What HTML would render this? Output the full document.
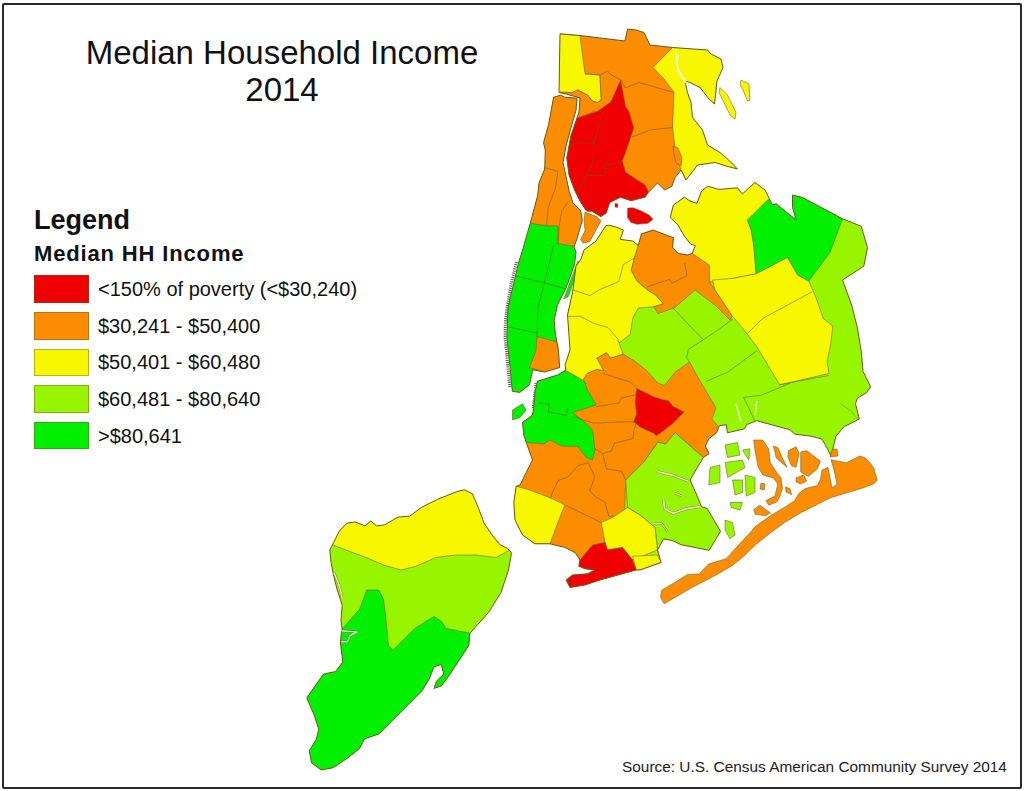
<!DOCTYPE html>
<html><head><meta charset="utf-8"><style>
html,body{margin:0;padding:0;background:#fff;}
body{width:1024px;height:791px;position:relative;overflow:hidden;font-family:"Liberation Sans",sans-serif;}
.frame{position:absolute;left:2px;top:3px;width:1016px;height:782px;border:2px solid #2a2a2a;box-sizing:content-box;border-radius:2px;}
.t{position:absolute;white-space:nowrap;color:#111;}
.sw{position:absolute;left:34px;width:55px;height:27.5px;box-sizing:border-box;border:1px solid rgba(106,90,32,0.45);}
svg{position:absolute;left:0;top:0;}
</style></head><body>
<div class="frame"></div>
<svg width="1024" height="791" viewBox="0 0 1024 791">
<clipPath id="cbx"><path d="M560.0,33.8 L580.0,35.5 L625.0,41.0 L627.5,29.0 L636.0,30.0 L644.0,32.5 L650.0,45.0 L672.5,47.5 L707.5,50.0 L711.0,54.0 L721.0,59.0 L723.0,67.5 L717.0,81.0 L714.5,104.0 L709.0,99.0 L700.0,87.5 L690.0,82.5 L685.0,81.0 L687.5,92.5 L691.0,102.5 L692.5,117.5 L702.5,130.0 L707.5,145.0 L720.0,152.5 L726.0,157.5 L737.5,169.0 L726.0,166.0 L715.0,162.5 L697.5,165.0 L686.0,180.0 L681.0,170.0 L675.0,177.7 L671.7,186.5 L664.6,190.0 L657.5,183.0 L648.7,191.9 L645.0,197.2 L631.0,200.7 L620.4,197.2 L609.7,202.5 L606.2,213.0 L601.0,216.6 L592.0,211.3 L586.5,211.0 L580.5,202.0 L574.5,190.0 L569.0,175.0 L566.8,158.0 L570.8,136.0 L579.0,112.0 L580.0,98.0 L566.0,94.0 L559.0,92.5 Z"/></clipPath>
<g clip-path="url(#cbx)"><rect x="540" y="20" width="220" height="220" fill="#fc8c00"/><path d="M560.0,33.8 L580.0,35.5 L585.0,73.8 L600.0,75.0 L601.2,100.0 L597.5,102.5 L592.5,101.2 L587.5,95.0 L577.5,90.0 L572.5,92.5 L550.0,92.5 L550.0,30.0 Z" fill="#f7f700" stroke="#6a5a20" stroke-opacity="0.6" stroke-width="0.9" stroke-linejoin="round" /><path d="M607.5,71.0 L610.0,74.0 L621.0,80.0 L614.0,97.5 L605.0,110.0 L600.0,114.0 L594.0,111.0 L586.0,116.0 L581.0,120.0 L576.0,116.0 L560.0,110.0 L560.0,92.0 L572.5,92.5 L577.5,90.0 L587.5,95.0 L592.5,101.2 L597.5,102.5 L601.2,100.0 L600.0,75.0 Z" fill="#fc8c00" stroke="#6a5a20" stroke-opacity="0.6" stroke-width="0.9" stroke-linejoin="round" /><path d="M620.6,80.5 L625.5,106.4 L628.8,111.4 L633.7,127.8 L625.5,152.5 L622.2,160.7 L625.5,172.2 L635.3,178.8 L645.2,185.3 L648.5,191.9 L660.0,200.0 L640.0,230.0 L560.0,230.0 L560.0,120.0 L573.8,119.6 L583.5,115.7 L597.0,111.8 L611.0,102.0 Z" fill="#f00000" stroke="#6a5a20" stroke-opacity="0.6" stroke-width="0.9" stroke-linejoin="round" /><path d="M653.0,67.5 L672.5,47.5 L740.0,45.0 L760.0,180.0 L686.0,180.0 L681.0,170.0 L675.0,147.5 L672.5,127.5 L674.0,92.5 L664.0,79.0 Z" fill="#f7f700" stroke="#6a5a20" stroke-opacity="0.6" stroke-width="0.9" stroke-linejoin="round" /><path d="M673.0,146.0 L678.0,148.0 L682.0,158.0 L681.0,166.0 L676.0,163.0 L674.0,155.0 Z" fill="#fc8c00" stroke="#6a5a20" stroke-opacity="0.6" stroke-width="0.9" stroke-linejoin="round" /><path d="M621.0,80.0 L625.0,88.0 L639.0,82.5 L674.0,92.5" fill="none" stroke="#6a5a20" stroke-opacity="0.6" stroke-width="0.9" stroke-linejoin="round"/><path d="M632.0,137.0 L650.0,130.0 L672.5,127.5" fill="none" stroke="#6a5a20" stroke-opacity="0.6" stroke-width="0.9" stroke-linejoin="round"/><path d="M585.0,73.8 L600.0,75.0" fill="none" stroke="#6a5a20" stroke-opacity="0.6" stroke-width="0.9" stroke-linejoin="round"/><path d="M602.5,113.0 L594.2,142.6 L592.6,164.0 L587.7,173.8 L579.5,188.6 L574.5,198.5" fill="none" stroke="#6a5a20" stroke-opacity="0.6" stroke-width="0.9" stroke-linejoin="round"/><path d="M566.3,144.2 L594.2,142.6" fill="none" stroke="#6a5a20" stroke-opacity="0.6" stroke-width="0.9" stroke-linejoin="round"/><path d="M587.7,175.5 L605.8,175.5 L604.0,165.6 L622.2,162.3" fill="none" stroke="#6a5a20" stroke-opacity="0.6" stroke-width="0.9" stroke-linejoin="round"/></g>
<path d="M560.0,33.8 L580.0,35.5 L625.0,41.0 L627.5,29.0 L636.0,30.0 L644.0,32.5 L650.0,45.0 L672.5,47.5 L707.5,50.0 L711.0,54.0 L721.0,59.0 L723.0,67.5 L717.0,81.0 L714.5,104.0 L709.0,99.0 L700.0,87.5 L690.0,82.5 L685.0,81.0 L687.5,92.5 L691.0,102.5 L692.5,117.5 L702.5,130.0 L707.5,145.0 L720.0,152.5 L726.0,157.5 L737.5,169.0 L726.0,166.0 L715.0,162.5 L697.5,165.0 L686.0,180.0 L681.0,170.0 L675.0,177.7 L671.7,186.5 L664.6,190.0 L657.5,183.0 L648.7,191.9 L645.0,197.2 L631.0,200.7 L620.4,197.2 L609.7,202.5 L606.2,213.0 L601.0,216.6 L592.0,211.3 L586.5,211.0 L580.5,202.0 L574.5,190.0 L569.0,175.0 L566.8,158.0 L570.8,136.0 L579.0,112.0 L580.0,98.0 L566.0,94.0 L559.0,92.5 Z" fill="none" stroke="#6a5a20" stroke-width="1"/>
<path d="M676.0,53.0 L678.0,70.0 L684.0,80.0 L689.0,86.0" fill="none" stroke="#ffffff" stroke-opacity="1" stroke-width="1.6" stroke-linejoin="round"/>
<path d="M720.0,87.5 L727.5,95.0 L736.0,112.5 L735.0,119.0 L730.0,115.0 L724.0,102.5 L719.0,92.5 Z" fill="#f7f700" stroke="#6a5a20" stroke-opacity="0.6" stroke-width="0.9" stroke-linejoin="round" />
<path d="M741.0,80.0 L749.0,84.0 L750.0,100.0 L747.5,101.0 L744.0,92.5 L740.0,84.0 Z" fill="#f7f700" stroke="#6a5a20" stroke-opacity="0.6" stroke-width="0.9" stroke-linejoin="round" />
<path d="M627.7,208.1 L632.8,207.8 L640.9,210.8 L649.0,215.0 L653.0,219.3 L648.0,223.3 L636.8,224.3 L630.8,222.3 L627.5,217.2 Z" fill="#f00000" stroke="#6a5a20" stroke-opacity="0.6" stroke-width="0.9" stroke-linejoin="round" />
<path d="M615.0,203.5 L618.0,204.0 L617.5,207.5 L615.0,207.0 Z" fill="#f00000" stroke="#6a5a20" stroke-opacity="0.6" stroke-width="0.9" stroke-linejoin="round" />
<clipPath id="cmn"><path d="M553.6,97.2 L560.7,95.2 L564.8,97.2 L577.0,98.2 L576.0,110.4 L571.9,124.5 L565.8,146.8 L563.0,162.6 L569.3,191.7 L573.1,203.0 L580.7,210.7 L582.3,220.0 L580.7,225.8 L577.0,238.5 L574.0,247.0 L576.0,252.0 L574.6,264.4 L566.0,288.0 L557.4,305.3 L554.2,320.3 L555.3,333.2 L558.5,350.4 L559.6,367.6 L544.5,372.0 L532.7,369.8 L529.5,384.8 L519.8,392.4 L512.3,391.3 L510.1,367.6 L506.9,337.5 L508.0,307.4 L518.7,262.3 L522.6,250.0 L530.2,223.3 L537.7,195.5 L539.0,182.9 L544.7,169.0 L545.3,150.0 L543.5,142.8 L548.6,124.5 Z"/></clipPath>
<g clip-path="url(#cmn)"><rect x="490" y="90" width="110" height="310" fill="#00f000"/><path d="M500.0,90.0 L600.0,90.0 L600.0,247.0 L571.9,246.0 L558.0,243.5 L558.0,226.0 L546.6,225.8 L530.2,223.3 L500.0,223.0 Z" fill="#fc8c00" stroke="#6a5a20" stroke-opacity="0.6" stroke-width="0.9" stroke-linejoin="round" /><path d="M537.0,336.5 L556.3,341.8 L575.0,342.0 L575.0,380.0 L544.5,372.0 L529.5,367.6 L536.0,350.4 Z" fill="#fc8c00" stroke="#6a5a20" stroke-opacity="0.6" stroke-width="0.9" stroke-linejoin="round" /><path d="M545.3,167.7 L558.0,171.5 L555.4,187.9 L547.9,208.1 L546.6,225.8" fill="none" stroke="#6a5a20" stroke-opacity="0.6" stroke-width="0.9" stroke-linejoin="round"/><path d="M569.3,200.6 L561.8,210.7 L559.2,225.8 L558.0,243.5" fill="none" stroke="#6a5a20" stroke-opacity="0.6" stroke-width="0.9" stroke-linejoin="round"/><path d="M500.0,276.0 L516.6,276.2 L544.5,282.7 L570.0,290.0" fill="none" stroke="#6a5a20" stroke-opacity="0.6" stroke-width="0.9" stroke-linejoin="round"/><path d="M554.2,243.0 L544.5,282.7 L538.0,307.4 L537.0,336.5" fill="none" stroke="#6a5a20" stroke-opacity="0.6" stroke-width="0.9" stroke-linejoin="round"/><path d="M500.0,326.0 L508.0,326.8 L537.0,333.0" fill="none" stroke="#6a5a20" stroke-opacity="0.6" stroke-width="0.9" stroke-linejoin="round"/></g>
<path d="M553.6,97.2 L560.7,95.2 L564.8,97.2 L577.0,98.2 L576.0,110.4 L571.9,124.5 L565.8,146.8 L563.0,162.6 L569.3,191.7 L573.1,203.0 L580.7,210.7 L582.3,220.0 L580.7,225.8 L577.0,238.5 L574.0,247.0 L576.0,252.0 L574.6,264.4 L566.0,288.0 L557.4,305.3 L554.2,320.3 L555.3,333.2 L558.5,350.4 L559.6,367.6 L544.5,372.0 L532.7,369.8 L529.5,384.8 L519.8,392.4 L512.3,391.3 L510.1,367.6 L506.9,337.5 L508.0,307.4 L518.7,262.3 L522.6,250.0 L530.2,223.3 L537.7,195.5 L539.0,182.9 L544.7,169.0 L545.3,150.0 L543.5,142.8 L548.6,124.5 Z" fill="none" stroke="#6a5a20" stroke-width="1"/>
<path d="M516.5,262 L511,285 L507.5,305 L505.5,320 L505,337 L506.5,352 L508,368 L510,388" fill="none" stroke="#5a5a5a" stroke-width="3" stroke-dasharray="1.1 1.1"/>
<path d="M536,383 L534.5,395 L533,408" fill="none" stroke="#5a5a5a" stroke-width="2.6" stroke-dasharray="1.1 1.1"/>
<path d="M585.0,212.0 L596.5,216.6 L601.0,221.0 L595.6,230.8 L590.0,241.4 L583.2,243.2 L580.5,239.6 L585.0,230.8 L584.0,221.0 Z" fill="#fc8c00" stroke="#6a5a20" stroke-opacity="0.6" stroke-width="0.9" stroke-linejoin="round" />
<path d="M577.8,261.2 L581.0,262.3 L568.2,296.7 L563.9,298.8 Z" fill="#00f000" stroke="#6a5a20" stroke-opacity="0.6" stroke-width="0.9" stroke-linejoin="round" />
<path d="M512.5,410.0 L522.5,403.8 L526.2,410.0 L520.0,417.5 L512.5,420.0 Z" fill="#00f000" stroke="#6a5a20" stroke-opacity="0.6" stroke-width="0.9" stroke-linejoin="round" />
<clipPath id="cli"><path d="M606.0,225.5 L609.4,225.3 L615.6,226.9 L623.4,230.0 L620.3,239.4 L632.8,241.0 L638.3,245.6 L641.4,233.9 L653.1,230.0 L673.4,237.8 L672.7,247.2 L678.1,253.4 L687.5,255.0 L692.2,253.4 L695.3,245.6 L690.6,244.0 L684.4,236.2 L678.0,225.0 L670.3,217.5 L673.4,205.0 L684.4,197.2 L690.0,201.0 L696.9,203.4 L701.6,191.0 L707.8,186.2 L718.8,189.4 L737.5,187.8 L742.2,194.0 L755.0,182.5 L765.0,190.0 L772.5,205.0 L776.2,203.8 L790.0,215.0 L796.2,220.0 L792.5,207.5 L792.5,195.0 L802.5,197.5 L842.5,218.8 L861.2,226.2 L867.5,247.5 L863.8,266.2 L842.5,280.0 L851.7,305.2 L857.4,328.0 L861.2,350.7 L863.1,371.6 L870.7,386.7 L866.9,392.4 L857.4,398.1 L855.5,403.8 L859.3,419.0 L844.2,426.6 L836.0,436.0 L833.0,448.0 L831.0,456.0 L827.0,448.0 L822.0,439.0 L810.0,436.0 L794.8,434.2 L790.0,429.8 L756.7,420.7 L746.6,424.7 L744.6,428.8 L727.4,432.8 L726.4,424.7 L719.3,425.7 L716.7,432.7 L709.1,438.4 L705.3,446.0 L709.1,453.6 L703.4,457.4 L697.7,466.9 L690.1,480.1 L697.7,497.2 L701.5,506.7 L707.2,508.6 L720.5,531.3 L709.1,550.3 L699.6,548.4 L680.7,544.6 L673.1,540.8 L663.6,538.9 L657.5,550.0 L661.2,562.5 L640.0,570.0 L636.2,570.0 L600.0,580.0 L585.0,585.0 L570.0,587.5 L566.2,580.0 L572.5,575.0 L587.5,573.8 L595.0,570.0 L585.0,568.8 L578.8,566.2 L580.0,560.0 L575.0,552.5 L565.0,547.5 L550.0,543.8 L535.0,543.8 L522.5,535.0 L515.0,520.0 L513.8,502.5 L516.2,486.2 L520.0,485.0 L525.0,475.0 L532.5,460.0 L526.2,442.5 L523.8,435.0 L522.5,422.5 L532.5,415.0 L533.8,406.2 L535.0,392.5 L537.5,381.2 L557.5,375.0 L566.0,370.0 L565.0,365.0 L570.0,350.0 L568.8,332.5 L567.5,315.0 L572.5,292.5 L576.0,266.0 L581.0,259.0 L584.0,250.0 L596.0,241.0 Z"/></clipPath>
<g clip-path="url(#cli)"><rect x="500" y="170" width="380" height="430" fill="#98f500"/><path d="M480.0,360.0 L587.0,373.4 L596.7,369.3 L603.7,370.7 L596.7,358.1 L606.5,352.6 L610.6,358.1 L623.1,354.0 L633.9,360.6 L646.4,370.3 L657.6,382.9 L664.5,385.6 L675.6,371.7 L689.5,362.0 L697.9,377.3 L706.2,391.2 L716.0,407.9 L711.8,419.0 L721.5,430.1 L740.0,460.0 L703.4,457.4 L675.0,432.7 L665.5,444.1 L657.9,442.2 L644.6,461.2 L625.7,480.1 L625.0,500.0 L620.0,600.0 L480.0,600.0 Z" fill="#fc8c00" stroke="#6a5a20" stroke-opacity="0.6" stroke-width="0.9" stroke-linejoin="round" /><path d="M520.0,365.0 L566.1,370.7 L575.9,376.2 L583.8,380.0 L587.5,390.0 L596.2,405.0 L572.5,412.5 L585.0,422.5 L592.5,430.0 L595.0,450.0 L592.5,460.0 L586.2,457.5 L577.5,446.2 L562.5,446.2 L550.0,440.0 L543.8,443.8 L526.2,442.5 L500.0,440.0 L500.0,365.0 Z" fill="#00f000" stroke="#6a5a20" stroke-opacity="0.6" stroke-width="0.9" stroke-linejoin="round" /><path d="M560.0,200.0 L636.0,200.0 L638.3,245.6 L634.4,258.0 L631.3,270.6 L637.5,281.6 L646.9,289.4 L656.3,295.6 L663.5,303.9 L653.8,306.7 L638.4,308.1 L632.9,317.8 L630.1,334.5 L619.0,342.9 L623.1,354.0 L610.6,358.1 L606.5,352.6 L596.7,358.1 L603.7,370.7 L596.7,369.3 L587.0,373.4 L582.8,380.4 L575.9,376.2 L566.1,370.7 L550.0,370.0 L550.0,200.0 Z" fill="#f7f700" stroke="#6a5a20" stroke-opacity="0.6" stroke-width="0.9" stroke-linejoin="round" /><path d="M636.0,228.0 L641.4,233.9 L653.1,230.0 L673.4,237.8 L672.7,247.2 L678.1,253.4 L687.5,255.0 L692.2,253.4 L709.4,265.2 L709.4,281.6 L715.0,290.0 L732.5,316.2 L730.0,320.0 L715.0,305.0 L695.0,290.0 L675.0,307.5 L657.9,313.6 L653.8,306.7 L663.5,303.9 L656.3,295.6 L646.9,289.4 L637.5,281.6 L631.3,270.6 L634.4,258.0 L638.3,245.6 Z" fill="#fc8c00" stroke="#6a5a20" stroke-opacity="0.6" stroke-width="0.9" stroke-linejoin="round" /><path d="M660.0,170.0 L780.0,170.0 L776.2,203.8 L767.5,205.0 L747.5,220.0 L751.2,230.0 L753.8,245.0 L756.2,273.8 L732.8,278.4 L720.3,283.0 L709.4,281.6 L709.4,265.2 L692.2,253.4 L680.0,240.0 L660.0,220.0 Z" fill="#f7f700" stroke="#6a5a20" stroke-opacity="0.6" stroke-width="0.9" stroke-linejoin="round" /><path d="M747.5,220.0 L767.5,200.0 L790.0,190.0 L850.0,200.0 L842.5,218.8 L830.0,252.5 L815.0,272.5 L808.8,281.2 L797.5,275.0 L787.5,257.5 L756.2,273.8 L753.8,245.0 L751.2,230.0 Z" fill="#00f000" stroke="#6a5a20" stroke-opacity="0.6" stroke-width="0.9" stroke-linejoin="round" /><path d="M712.5,280.0 L732.8,278.4 L756.2,273.8 L787.5,257.5 L797.5,275.0 L808.8,281.2 L815.0,295.0 L823.3,318.5 L832.8,326.0 L830.9,343.1 L827.1,362.1 L829.0,373.5 L779.7,384.8 L756.9,346.9 L745.5,331.7 L732.5,316.2 L715.0,290.0 Z" fill="#f7f700" stroke="#6a5a20" stroke-opacity="0.6" stroke-width="0.9" stroke-linejoin="round" /><path d="M636.7,388.4 L653.4,396.8 L661.7,399.5 L668.7,400.9 L672.9,406.5 L684.0,412.1 L679.8,416.2 L672.9,423.2 L660.3,432.9 L656.2,435.7 L653.4,432.9 L640.9,427.4 L633.9,421.8 L636.7,413.5 L635.3,402.3 Z" fill="#f00000" stroke="#6a5a20" stroke-opacity="0.6" stroke-width="0.9" stroke-linejoin="round" /><path d="M625.7,480.1 L644.6,461.2 L657.9,442.2 L665.5,444.1 L675.0,432.7 L703.4,457.4 L740.0,480.0 L740.0,560.0 L657.5,550.0 L655.0,527.5 L640.0,515.0 L627.5,507.5 Z" fill="#98f500" stroke="#6a5a20" stroke-opacity="0.6" stroke-width="0.9" stroke-linejoin="round" /><path d="M516.2,486.2 L530.0,490.0 L552.5,498.8 L565.0,505.0 L558.8,520.0 L550.0,543.8 L535.0,543.8 L500.0,540.0 L500.0,486.0 Z" fill="#f7f700" stroke="#6a5a20" stroke-opacity="0.6" stroke-width="0.9" stroke-linejoin="round" /><path d="M601.2,522.5 L612.5,517.5 L627.5,507.5 L640.0,515.0 L655.0,527.5 L657.5,550.0 L645.0,555.0 L632.5,560.0 L622.5,547.5 L607.5,550.0 L605.0,542.5 Z" fill="#f7f700" stroke="#6a5a20" stroke-opacity="0.6" stroke-width="0.9" stroke-linejoin="round" /><path d="M632.5,556.2 L657.5,555.0 L661.2,562.5 L640.0,570.0 L636.2,570.0 Z" fill="#f7f700" stroke="#6a5a20" stroke-opacity="0.6" stroke-width="0.9" stroke-linejoin="round" /><path d="M580.0,560.0 L592.5,545.0 L605.0,542.5 L607.5,550.0 L622.5,547.5 L632.5,560.0 L636.2,570.0 L600.0,580.0 L585.0,590.0 L560.0,590.0 L560.0,560.0 Z" fill="#f00000" stroke="#6a5a20" stroke-opacity="0.6" stroke-width="0.9" stroke-linejoin="round" /><path d="M537.9,402.9 L549.3,404.1 L548.0,411.7 L565.8,415.5 L568.3,407.9" fill="none" stroke="#6a5a20" stroke-opacity="0.6" stroke-width="0.9" stroke-linejoin="round"/><path d="M596.2,406.7 L619.1,402.9 L621.6,397.8 L634.3,395.2 L640.0,392.0" fill="none" stroke="#6a5a20" stroke-opacity="0.6" stroke-width="0.9" stroke-linejoin="round"/><path d="M573.4,416.8 L593.7,423.2 L621.6,421.9 L636.9,421.9" fill="none" stroke="#6a5a20" stroke-opacity="0.6" stroke-width="0.9" stroke-linejoin="round"/><path d="M595.0,448.6 L602.6,453.6 L611.5,451.1 L614.0,443.5 L633.1,438.4 L634.3,428.2 L636.9,421.9" fill="none" stroke="#6a5a20" stroke-opacity="0.6" stroke-width="0.9" stroke-linejoin="round"/><path d="M602.6,453.6 L606.4,468.9 L621.6,471.4 L625.7,480.1" fill="none" stroke="#6a5a20" stroke-opacity="0.6" stroke-width="0.9" stroke-linejoin="round"/><path d="M588.5,462.9 L578.3,465.4 L568.2,476.8 L558.0,480.6 L551.7,494.6 L550.4,498.4" fill="none" stroke="#6a5a20" stroke-opacity="0.6" stroke-width="0.9" stroke-linejoin="round"/><path d="M588.5,462.9 L594.8,476.8 L589.7,490.8 L596.1,497.1 L605.0,502.2 L608.8,516.2 L613.9,516.2" fill="none" stroke="#6a5a20" stroke-opacity="0.6" stroke-width="0.9" stroke-linejoin="round"/><path d="M565.0,505.0 L601.2,522.5" fill="none" stroke="#6a5a20" stroke-opacity="0.6" stroke-width="0.9" stroke-linejoin="round"/><path d="M602.3,373.1 L614.1,377.0 L629.7,381.7 L635.9,387.2" fill="none" stroke="#6a5a20" stroke-opacity="0.6" stroke-width="0.9" stroke-linejoin="round"/><path d="M567.5,316.4 L580.0,316.4 L594.0,323.4 L607.9,327.6 L617.6,338.7 L619.0,342.9" fill="none" stroke="#6a5a20" stroke-opacity="0.6" stroke-width="0.9" stroke-linejoin="round"/><path d="M573.0,290.0 L590.0,295.6 L600.0,289.4 L618.8,281.6 L623.4,264.4 L634.4,258.0" fill="none" stroke="#6a5a20" stroke-opacity="0.6" stroke-width="0.9" stroke-linejoin="round"/><path d="M673.0,308.0 L693.7,330.0 L703.4,339.7 L688.2,349.5 L686.8,357.8 L689.5,362.0" fill="none" stroke="#6a5a20" stroke-opacity="0.6" stroke-width="0.9" stroke-linejoin="round"/><path d="M703.4,339.7 L718.0,330.0 L732.8,318.9" fill="none" stroke="#6a5a20" stroke-opacity="0.6" stroke-width="0.9" stroke-linejoin="round"/><path d="M706.2,381.5 L728.5,371.7 L756.9,350.7" fill="none" stroke="#6a5a20" stroke-opacity="0.6" stroke-width="0.9" stroke-linejoin="round"/><path d="M779.7,384.8 L829.0,375.4" fill="none" stroke="#6a5a20" stroke-opacity="0.6" stroke-width="0.9" stroke-linejoin="round"/><path d="M790.0,383.3 L778.0,388.3 L760.8,395.4 L743.6,397.4 L748.6,407.5 L754.7,420.7" fill="none" stroke="#6a5a20" stroke-opacity="0.6" stroke-width="0.9" stroke-linejoin="round"/><path d="M747.4,333.6 L762.6,318.5 L811.9,291.9" fill="none" stroke="#6a5a20" stroke-opacity="0.6" stroke-width="0.9" stroke-linejoin="round"/><path d="M646.6,287.0 L669.4,279.4 L671.9,283.2 L687.1,275.6 L684.6,263.0" fill="none" stroke="#6a5a20" stroke-opacity="0.6" stroke-width="0.9" stroke-linejoin="round"/></g>
<path d="M606.0,225.5 L609.4,225.3 L615.6,226.9 L623.4,230.0 L620.3,239.4 L632.8,241.0 L638.3,245.6 L641.4,233.9 L653.1,230.0 L673.4,237.8 L672.7,247.2 L678.1,253.4 L687.5,255.0 L692.2,253.4 L695.3,245.6 L690.6,244.0 L684.4,236.2 L678.0,225.0 L670.3,217.5 L673.4,205.0 L684.4,197.2 L690.0,201.0 L696.9,203.4 L701.6,191.0 L707.8,186.2 L718.8,189.4 L737.5,187.8 L742.2,194.0 L755.0,182.5 L765.0,190.0 L772.5,205.0 L776.2,203.8 L790.0,215.0 L796.2,220.0 L792.5,207.5 L792.5,195.0 L802.5,197.5 L842.5,218.8 L861.2,226.2 L867.5,247.5 L863.8,266.2 L842.5,280.0 L851.7,305.2 L857.4,328.0 L861.2,350.7 L863.1,371.6 L870.7,386.7 L866.9,392.4 L857.4,398.1 L855.5,403.8 L859.3,419.0 L844.2,426.6 L836.0,436.0 L833.0,448.0 L831.0,456.0 L827.0,448.0 L822.0,439.0 L810.0,436.0 L794.8,434.2 L790.0,429.8 L756.7,420.7 L746.6,424.7 L744.6,428.8 L727.4,432.8 L726.4,424.7 L719.3,425.7 L716.7,432.7 L709.1,438.4 L705.3,446.0 L709.1,453.6 L703.4,457.4 L697.7,466.9 L690.1,480.1 L697.7,497.2 L701.5,506.7 L707.2,508.6 L720.5,531.3 L709.1,550.3 L699.6,548.4 L680.7,544.6 L673.1,540.8 L663.6,538.9 L657.5,550.0 L661.2,562.5 L640.0,570.0 L636.2,570.0 L600.0,580.0 L585.0,585.0 L570.0,587.5 L566.2,580.0 L572.5,575.0 L587.5,573.8 L595.0,570.0 L585.0,568.8 L578.8,566.2 L580.0,560.0 L575.0,552.5 L565.0,547.5 L550.0,543.8 L535.0,543.8 L522.5,535.0 L515.0,520.0 L513.8,502.5 L516.2,486.2 L520.0,485.0 L525.0,475.0 L532.5,460.0 L526.2,442.5 L523.8,435.0 L522.5,422.5 L532.5,415.0 L533.8,406.2 L535.0,392.5 L537.5,381.2 L557.5,375.0 L566.0,370.0 L565.0,365.0 L570.0,350.0 L568.8,332.5 L567.5,315.0 L572.5,292.5 L576.0,266.0 L581.0,259.0 L584.0,250.0 L596.0,241.0 Z" fill="none" stroke="#6a5a20" stroke-width="1"/>
<path d="M736.0,404.0 L741.0,421.0" fill="none" stroke="#ffffff" stroke-opacity="1" stroke-width="1.1" stroke-linejoin="round"/>
<path d="M757.0,401.0 L755.0,415.0" fill="none" stroke="#ffffff" stroke-opacity="1" stroke-width="1.1" stroke-linejoin="round"/>
<path d="M840.4,403.8 L851.7,411.4 L857.4,419.0" fill="none" stroke="#8a7a4a" stroke-opacity="0.6" stroke-width="0.9" stroke-linejoin="round"/>
<path d="M664.1,603.8 L679.3,595.0 L691.0,588.0 L702.7,582.1 L718.0,573.9 L732.0,565.7 L743.8,556.3 L755.3,545.0 L770.3,533.0 L785.5,521.9 L800.7,512.8 L815.8,505.2 L831.0,497.6 L846.2,493.1 L861.3,488.5 L873.5,484.0 L877.3,480.2 L873.5,467.3 L865.9,458.2 L859.8,455.9 L853.8,459.0 L846.2,462.8 L838.6,461.2 L831.0,459.7 L834.0,470.0 L837.0,484.0 L832.0,488.0 L828.0,467.3 L821.9,470.3 L820.4,479.4 L817.4,485.5 L805.2,488.5 L799.2,493.1 L794.6,500.7 L785.5,506.7 L770.3,515.8 L755.2,526.5 L752.0,530.5 L737.9,545.8 L726.2,558.7 L716.8,561.6 L708.6,564.0 L699.2,573.9 L687.5,574.5 L673.4,583.3 L661.7,590.3 L660.5,597.0 Z" fill="#fc8c00" stroke="#6a5a20" stroke-opacity="0.6" stroke-width="0.9" stroke-linejoin="round" />
<path d="M753.7,440.0 L762.8,440.0 L768.8,449.1 L770.3,462.8 L776.4,471.9 L781.0,477.9 L782.5,488.5 L779.4,497.6 L776.4,502.2 L768.8,505.2 L765.8,500.7 L774.9,496.1 L777.9,484.0 L773.4,477.9 L762.8,474.9 L758.2,467.3 L755.2,452.1 Z" fill="#fc8c00" stroke="#6a5a20" stroke-opacity="0.6" stroke-width="0.9" stroke-linejoin="round" />
<path d="M753.7,509.8 L759.7,505.2 L770.3,512.8 L765.8,515.8 L755.2,514.3 Z" fill="#fc8c00" stroke="#6a5a20" stroke-opacity="0.6" stroke-width="0.9" stroke-linejoin="round" />
<path d="M773.4,446.0 L777.9,447.6 L782.5,458.2 L787.0,467.3 L776.4,458.2 Z" fill="#fc8c00" stroke="#6a5a20" stroke-opacity="0.6" stroke-width="0.9" stroke-linejoin="round" />
<path d="M788.5,450.6 L796.1,446.8 L799.2,453.6 L796.1,467.3 L791.6,465.8 L787.8,456.7 Z" fill="#fc8c00" stroke="#6a5a20" stroke-opacity="0.6" stroke-width="0.9" stroke-linejoin="round" />
<path d="M800.7,452.1 L806.7,450.6 L820.4,461.2 L817.4,468.8 L808.3,476.4 L800.7,471.9 Z" fill="#fc8c00" stroke="#6a5a20" stroke-opacity="0.6" stroke-width="0.9" stroke-linejoin="round" />
<path d="M796.1,477.9 L803.7,474.9 L806.7,481.0 L800.7,484.0 L796.0,482.0 Z" fill="#fc8c00" stroke="#6a5a20" stroke-opacity="0.6" stroke-width="0.9" stroke-linejoin="round" />
<path d="M761.0,483.0 L765.0,484.0 L764.3,490.0 L760.0,489.0 Z" fill="#fc8c00" stroke="#6a5a20" stroke-opacity="0.6" stroke-width="0.9" stroke-linejoin="round" />
<path d="M785.5,487.0 L790.0,488.5 L791.6,494.6 L786.0,492.0 Z" fill="#fc8c00" stroke="#6a5a20" stroke-opacity="0.6" stroke-width="0.9" stroke-linejoin="round" />
<path d="M832.5,449.1 L837.0,449.1 L838.0,456.0 L830.0,457.0 Z" fill="#fc8c00" stroke="#6a5a20" stroke-opacity="0.6" stroke-width="0.9" stroke-linejoin="round" />
<path d="M725.0,445.0 L737.5,442.5 L740.0,455.0 L727.5,457.5 Z" fill="#98f500" stroke="#6a5a20" stroke-opacity="0.6" stroke-width="0.9" stroke-linejoin="round" />
<path d="M742.5,450.0 L750.0,448.8 L748.8,460.0 Z" fill="#98f500" stroke="#6a5a20" stroke-opacity="0.6" stroke-width="0.9" stroke-linejoin="round" />
<path d="M710.0,467.5 L720.0,465.0 L720.0,482.5 L708.8,485.0 Z" fill="#98f500" stroke="#6a5a20" stroke-opacity="0.6" stroke-width="0.9" stroke-linejoin="round" />
<path d="M725.0,462.5 L742.5,460.0 L745.0,467.5 L727.5,477.5 Z" fill="#98f500" stroke="#6a5a20" stroke-opacity="0.6" stroke-width="0.9" stroke-linejoin="round" />
<path d="M732.5,480.0 L742.5,480.0 L742.5,492.5 L735.0,495.0 Z" fill="#98f500" stroke="#6a5a20" stroke-opacity="0.6" stroke-width="0.9" stroke-linejoin="round" />
<path d="M745.0,475.0 L755.0,477.5 L755.0,492.5 L746.2,496.2 Z" fill="#98f500" stroke="#6a5a20" stroke-opacity="0.6" stroke-width="0.9" stroke-linejoin="round" />
<path d="M730.0,502.5 L742.5,502.5 L740.0,510.0 L731.2,507.5 Z" fill="#98f500" stroke="#6a5a20" stroke-opacity="0.6" stroke-width="0.9" stroke-linejoin="round" />
<path d="M725.0,520.0 L732.5,522.5 L735.0,535.0 L730.0,538.8 L725.0,530.0 Z" fill="#98f500" stroke="#6a5a20" stroke-opacity="0.6" stroke-width="0.9" stroke-linejoin="round" />
<clipPath id="csi"><path d="M333.7,542.5 L339.5,530.8 L347.3,523.0 L355.2,522.0 L365.0,525.9 L370.8,521.0 L376.6,525.9 L384.5,524.9 L398.1,517.1 L409.8,516.1 L421.6,507.3 L437.2,499.5 L456.7,491.7 L464.5,489.8 L472.3,493.7 L478.2,507.3 L484.0,523.0 L491.9,534.7 L499.7,544.5 L507.5,548.4 L511.4,552.3 L511.0,556.0 L508.5,570.0 L501.0,592.5 L488.5,612.5 L470.0,633.2 L468.9,645.2 L458.0,662.0 L448.5,676.4 L441.3,686.0 L434.0,688.4 L436.5,681.2 L443.7,674.0 L441.3,664.4 L434.0,666.8 L429.3,678.8 L422.0,690.8 L405.2,707.6 L395.6,717.3 L386.0,726.9 L378.8,734.0 L364.4,738.9 L359.6,748.5 L347.6,758.0 L333.2,767.7 L321.2,770.0 L311.6,762.9 L309.2,750.9 L316.4,738.9 L318.8,729.3 L314.0,714.8 L306.8,698.0 L311.6,690.8 L323.6,674.0 L335.6,671.6 L342.8,662.0 L340.4,642.8 L341.6,630.8 L342.2,630.0 L341.0,620.0 L342.2,605.0 L337.2,590.0 L333.5,575.0 L331.0,562.5 L329.8,550.0 Z"/></clipPath>
<g clip-path="url(#csi)"><rect x="300" y="480" width="220" height="300" fill="#98f500"/><path d="M320.0,480.0 L520.0,480.0 L520.0,550.0 L509.8,550.0 L496.0,557.5 L476.0,555.0 L456.0,555.0 L436.0,557.5 L416.0,566.2 L401.0,570.0 L383.5,565.0 L366.0,557.5 L346.0,550.0 L329.8,543.8 L320.0,543.0 Z" fill="#f7f700" stroke="#6a5a20" stroke-opacity="0.6" stroke-width="0.9" stroke-linejoin="round" /><path d="M300.0,780.0 L300.0,629.0 L341.6,629.6 L359.6,609.2 L366.8,590.0 L378.8,590.0 L383.6,599.6 L386.0,620.0 L388.4,645.2 L393.2,650.0 L405.2,638.0 L414.8,628.4 L434.0,616.4 L441.3,621.2 L446.0,628.4 L470.0,633.2 L520.0,633.0 L520.0,780.0 Z" fill="#00f000" stroke="#6a5a20" stroke-opacity="0.6" stroke-width="0.9" stroke-linejoin="round" /></g>
<path d="M333.7,542.5 L339.5,530.8 L347.3,523.0 L355.2,522.0 L365.0,525.9 L370.8,521.0 L376.6,525.9 L384.5,524.9 L398.1,517.1 L409.8,516.1 L421.6,507.3 L437.2,499.5 L456.7,491.7 L464.5,489.8 L472.3,493.7 L478.2,507.3 L484.0,523.0 L491.9,534.7 L499.7,544.5 L507.5,548.4 L511.4,552.3 L511.0,556.0 L508.5,570.0 L501.0,592.5 L488.5,612.5 L470.0,633.2 L468.9,645.2 L458.0,662.0 L448.5,676.4 L441.3,686.0 L434.0,688.4 L436.5,681.2 L443.7,674.0 L441.3,664.4 L434.0,666.8 L429.3,678.8 L422.0,690.8 L405.2,707.6 L395.6,717.3 L386.0,726.9 L378.8,734.0 L364.4,738.9 L359.6,748.5 L347.6,758.0 L333.2,767.7 L321.2,770.0 L311.6,762.9 L309.2,750.9 L316.4,738.9 L318.8,729.3 L314.0,714.8 L306.8,698.0 L311.6,690.8 L323.6,674.0 L335.6,671.6 L342.8,662.0 L340.4,642.8 L341.6,630.8 L342.2,630.0 L341.0,620.0 L342.2,605.0 L337.2,590.0 L333.5,575.0 L331.0,562.5 L329.8,550.0 Z" fill="none" stroke="#6a5a20" stroke-width="1"/>
<path d="M657.9,471.6 L672.0,475.0 L688.2,481.1" fill="none" stroke="#6a5a20" stroke-opacity="0.6" stroke-width="2.5" stroke-linejoin="round"/>
<path d="M657.9,471.6 L672.0,475.0 L688.2,481.1" fill="none" stroke="#ffffff" stroke-opacity="1" stroke-width="1.3" stroke-linejoin="round"/>
<path d="M663.6,499.1 L664.5,508.6 L673.1,513.3 L686.4,508.6 L699.6,506.7" fill="none" stroke="#6a5a20" stroke-opacity="0.6" stroke-width="2.5999999999999996" stroke-linejoin="round"/>
<path d="M663.6,499.1 L664.5,508.6 L673.1,513.3 L686.4,508.6 L699.6,506.7" fill="none" stroke="#ffffff" stroke-opacity="1" stroke-width="1.4" stroke-linejoin="round"/>
<path d="M675.0,493.4 L682.0,496.0" fill="none" stroke="#6a5a20" stroke-opacity="0.6" stroke-width="2.2" stroke-linejoin="round"/>
<path d="M675.0,493.4 L682.0,496.0" fill="none" stroke="#ffffff" stroke-opacity="1" stroke-width="1.0" stroke-linejoin="round"/>
<path d="M654.1,523.7 L661.7,523.7 L667.4,531.3" fill="none" stroke="#6a5a20" stroke-opacity="0.6" stroke-width="2.2" stroke-linejoin="round"/>
<path d="M654.1,523.7 L661.7,523.7 L667.4,531.3" fill="none" stroke="#ffffff" stroke-opacity="1" stroke-width="1.0" stroke-linejoin="round"/>
<path d="M334.0,573.0 L338.0,582.0 L341.0,592.0 L342.0,598.0" fill="none" stroke="#6a5a20" stroke-opacity="0.6" stroke-width="2.4" stroke-linejoin="round"/>
<path d="M334.0,573.0 L338.0,582.0 L341.0,592.0 L342.0,598.0" fill="none" stroke="#ffffff" stroke-opacity="1" stroke-width="1.2" stroke-linejoin="round"/>
<path d="M341.6,630.8 L357.2,632.0 L350.0,635.6 L347.6,641.6 L341.6,641.6" fill="none" stroke="#6a5a20" stroke-opacity="0.6" stroke-width="2.4" stroke-linejoin="round"/>
<path d="M341.6,630.8 L357.2,632.0 L350.0,635.6 L347.6,641.6 L341.6,641.6" fill="none" stroke="#ffffff" stroke-opacity="1" stroke-width="1.2" stroke-linejoin="round"/>
</svg>
<div class="t" style="left:0;width:564px;text-align:center;top:34px;font-size:33px;line-height:37px;">Median Household Income<br>2014</div>
<div class="t" style="left:34px;top:205px;font-size:27px;font-weight:bold;">Legend</div>
<div class="t" style="left:34px;top:241px;font-size:22px;font-weight:bold;letter-spacing:0.85px;">Median HH Income</div>
<div class="sw" style="top:275px;background:#f00000"></div>
<div class="sw" style="top:312px;background:#fc8c00"></div>
<div class="sw" style="top:348.5px;background:#f7f700"></div>
<div class="sw" style="top:385px;background:#98f500"></div>
<div class="sw" style="top:421.5px;background:#00f000"></div>
<div class="t" style="left:98px;top:278px;font-size:20px;">&lt;150% of poverty (&lt;$30,240)</div>
<div class="t" style="left:98px;top:315px;font-size:20px;">$30,241 - $50,400</div>
<div class="t" style="left:98px;top:351px;font-size:20px;">$50,401 - $60,480</div>
<div class="t" style="left:98px;top:388px;font-size:20px;">$60,481 - $80,640</div>
<div class="t" style="left:98px;top:425px;font-size:20px;">&gt;$80,641</div>
<div class="t" style="left:622px;top:758px;font-size:15.4px;color:#222;">Source: U.S. Census American Community Survey 2014</div>
</body></html>
